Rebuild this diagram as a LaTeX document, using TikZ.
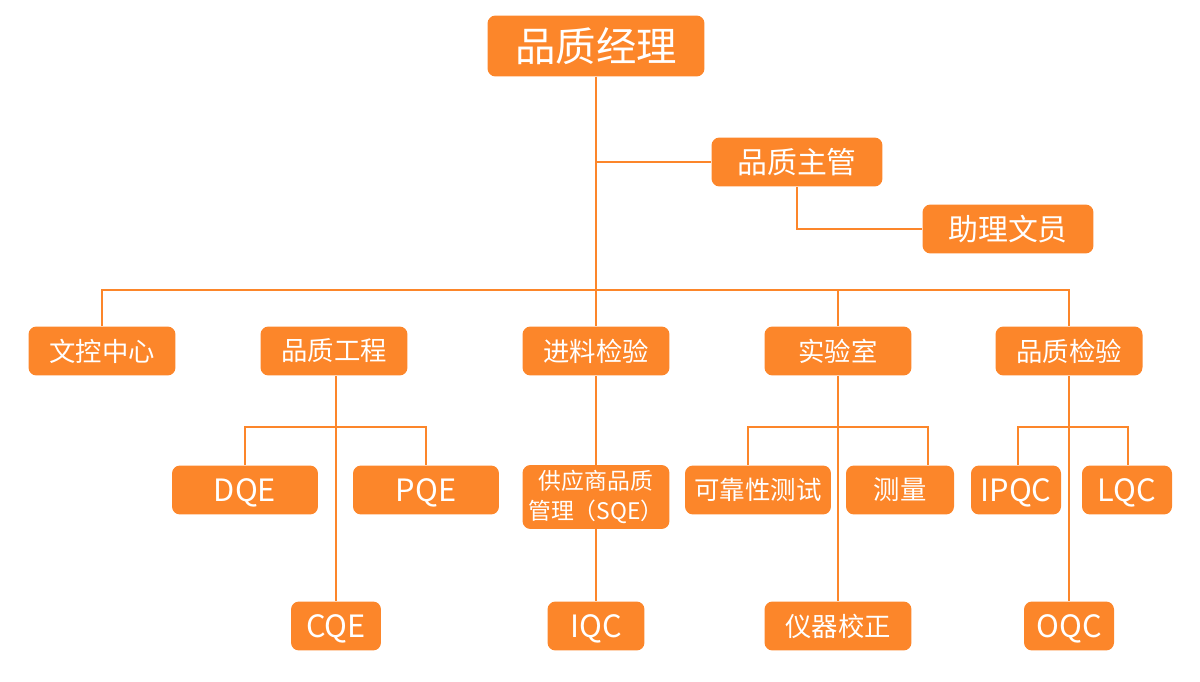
\documentclass[tikz,border=0pt]{standalone}
\usepackage{fontspec}
\newfontfamily\cjk{Noto Sans CJK SC}
\usepackage{tikz}
\definecolor{qorange}{RGB}{252,134,42}

\begin{document}
\begin{tikzpicture}[x=0.02cm,y=-0.02cm,
  box/.style={rectangle,fill=qorange,text=white,rounded corners=0.16cm,inner sep=0pt,
    minimum height=0.98cm,font=\cjk\fontsize{15}{18}\selectfont},
  wide/.style={box,minimum width=2.94cm},
  narrow/.style={box,minimum width=1.8cm},
  latin/.style={font=\cjk\fontsize{17.5}{20}\selectfont,text height=12.6pt,text depth=0pt},
  link/.style={draw=qorange,line width=1.2pt}]
\useasboundingbox (0,0) rectangle (1200,682);
\path (596,46) node(mgr)[box,minimum width=4.34cm,minimum height=1.22cm,font=\cjk\fontsize{23}{27}\selectfont]{品质经理}
(797,162) node(sup)[box,minimum width=3.42cm,font=\cjk\fontsize{17}{20}\selectfont]{品质主管}
(1008,229) node(asst)[box,minimum width=3.42cm,font=\cjk\fontsize{17}{20}\selectfont]{助理文员}
(102,351) node(doc)[wide]{文控中心}
(334,351) node(eng)[wide]{品质工程}
(596,351) node(inc)[wide]{进料检验}
(838,351) node(lab)[wide]{实验室}
(1069,351) node(qc)[wide]{品质检验}
(245,490) node(dqe)[wide,minimum width=2.92cm,latin]{DQE}
(426,490) node(pqe)[wide,minimum width=2.92cm,latin]{PQE}
(596,497) node(sqe)[wide,minimum height=1.28cm,align=center,font=\cjk\fontsize{13}{17}\selectfont]{供应商品质\\管理（SQE）}
(758,490) node(rel)[wide,minimum width=2.92cm,font=\cjk\fontsize{14.5}{18}\selectfont]{可靠性测试}
(900,490) node(meas)[box,minimum width=2.16cm]{测量}
(1016,490) node(ipqc)[narrow,latin]{IPQC}
(1127,490) node(lqc)[narrow,latin]{LQC}
(336,626) node(cqe)[narrow,latin]{CQE}
(596,626) node(iqc)[box,minimum width=1.94cm,latin]{IQC}
(838,626) node(cal)[wide]{仪器校正}
(1069,626) node(oqc)[narrow,latin]{OQC};
% joints
\coordinate (bus) at (596,290);
\coordinate (engbus) at (336,427);
\coordinate (labl) at (748,427);
\coordinate (labr) at (928,427);
\coordinate (qcl) at (1018,427);
\coordinate (qcr) at (1128,427);
% top part
\draw[link](mgr.south)--(inc.north);
\draw[link](mgr.south)|-(sup.west);
\draw[link](sup.south)|-(asst.west);
\draw[link](doc.north)|-(bus)-|(qc.north);
\draw[link](eng.north -| cqe.north)--(eng.north -| cqe.north |- bus);
\draw[link](lab.north)--(lab.north |- bus);
% quality engineering
\draw[link](eng.south -| cqe.north)--(cqe.north);
\draw[link](dqe.north)|-(engbus)-|(pqe.north);
% incoming
\draw[link](inc.south)--(sqe.north);
\draw[link](sqe.south)--(iqc.north);
% lab
\draw[link](lab.south)--(cal.north);
\draw[link](rel.north -| labl)--(labl)--(labr)--(meas.north -| labr);
% inspection
\draw[link](qc.south)--(oqc.north);
\draw[link](ipqc.north -| qcl)--(qcl)--(qcr)--(lqc.north -| qcr);
\end{tikzpicture}
\end{document}
